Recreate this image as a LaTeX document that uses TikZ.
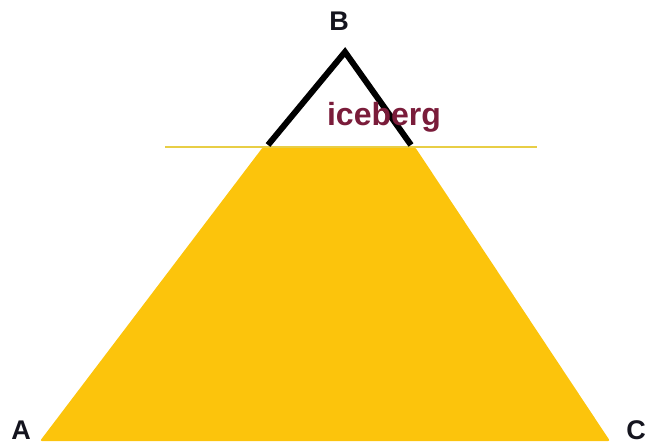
\documentclass[tikz,border=0pt]{standalone}
\usepackage{fontspec}
\setmainfont{Liberation Sans}
\definecolor{ice}{RGB}{252,196,12}
\definecolor{waterline}{RGB}{232,206,70}
\definecolor{maroon}{RGB}{122,28,58}
\definecolor{labelc}{RGB}{20,20,30}
\begin{document}
\begin{tikzpicture}[x=1pt,y=-1pt,
  vlabel/.style={font=\bfseries\fontsize{27}{27}\selectfont, text=labelc, inner sep=0pt},
  edge/.style={line width=6pt, line join=miter, black}]
\useasboundingbox (0,0) rectangle (650,446);
% key points
\coordinate (A) at (40,441);
\coordinate (C) at (610,441);
\coordinate (B) at (345,52);
\coordinate (TL) at (263,147);
\coordinate (TR) at (415,147);
\coordinate (WL) at (165,147);
\coordinate (WR) at (537,147);
\coordinate (L1) at (268,145);
\coordinate (R1) at (411,145);
% submerged body
\fill[ice, rounded corners=2pt] (A) -- (TL) -- (TR) -- (C) -- cycle;
% waterline
\draw[waterline, line width=1.5pt] (WL) -- (WR);
% visible tip
\draw[edge] (L1) -- (B) -- (R1);
% labels
\node[vlabel] (la) at (21,430) {A};
\node[vlabel] (lb) at (339,21) {B};
\node[vlabel] (lc) at (636,430) {C};
\node[font=\bfseries\fontsize{32}{32}\selectfont, text=maroon, inner sep=0pt] (ice) at (384,117) {iceberg};
\end{tikzpicture}
\end{document}
